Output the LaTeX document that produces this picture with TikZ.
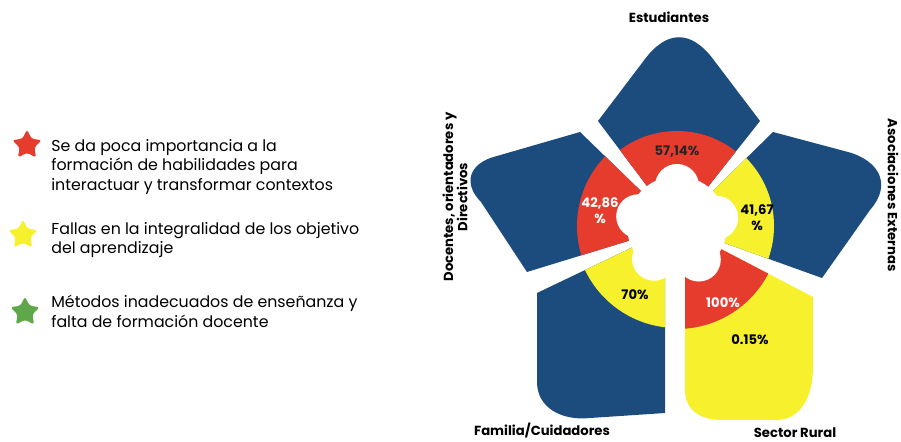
\documentclass[tikz,border=0pt]{standalone}
\usepackage{fontspec}
\setmainfont{Poppins}
\usetikzlibrary{shapes.geometric}
\definecolor{petalblue}{RGB}{28,76,125}
\definecolor{ringred}{RGB}{230,60,45}
\definecolor{ringyellow}{RGB}{247,240,45}
\definecolor{stargreen}{RGB}{95,168,74}

\begin{document}
\begin{tikzpicture}[x=0.02cm,y=0.02cm,
  pct/.style={font=\fontsize{7.5}{9}\selectfont\bfseries, align=center, inner sep=0pt},
  lbl/.style={font=\fontsize{7.5}{8}\selectfont\bfseries, align=center, inner sep=0pt},
  legtext/.style={anchor=west, align=left, font=\fontsize{9}{11.3}\selectfont, inner sep=0pt},
  legstar/.style={star, star points=5, star point ratio=2, minimum size=0.62cm, inner sep=0pt, rounded corners=1.5pt}]
\useasboundingbox (0,0) rectangle (901,442);
\coordinate (C) at (677,216);

% Estudiantes
\begin{scope}
\clip (C) -- (598,321) -- (645,383) .. controls (667,412) and (691,412) .. (713,383) -- (760,321) -- cycle;
\fill[petalblue] (0,0) rectangle (901,442);
\fill[ringred] (C) circle (95);
\end{scope}
% Docentes
\begin{scope}
\clip (C) -- (580,310) -- (497,286) .. controls (468,279) and (463,258) .. (481,240) -- (527,170) -- cycle;
\fill[petalblue] (0,0) rectangle (901,442);
\fill[ringred] (C) circle (100);
\end{scope}
% Asociaciones
\begin{scope}
\clip (C) -- (773,310) -- (848,290) .. controls (880,281) and (892,257) .. (870,232) -- (822,164) -- cycle;
\fill[petalblue] (0,0) rectangle (901,442);
\fill[ringyellow] (C) circle (97);
\end{scope}
% Familia
\begin{scope}
\clip (C) -- (537,149) -- (537,60) .. controls (537,34) and (562,21) .. (590,24) -- (665,29) -- (665,185) -- cycle;
\fill[petalblue] (0,0) rectangle (901,442);
\fill[ringyellow] (C) circle (102);
\end{scope}
% Sector rural
\begin{scope}
\clip (C) -- (685,185) -- (685,52) .. controls (685,32) and (700,22) .. (722,22) -- (776,22) .. controls (800,22) and (813,44) .. (813,75) -- (813,145) -- cycle;
\fill[ringyellow] (0,0) rectangle (901,442);
\fill[ringred] (C) circle (103);
\end{scope}

% centro
\fill[white] (C) circle (50);
\foreach \a in {90,166,235,303,12}
  \fill[white] (C) ++(\a:40) circle (22);

\node[pct, text=black!85] (p1) at (677,290) {57,14\%};
\node[pct, text=white] (p2) at (600,231) {42,86\\\%};
\node[pct] (p3) at (757,224) {41,67\\\%};
\node[pct] (p4) at (635,147) {70\%};
\node[pct, text=white] (p5) at (723,139) {100\%};
\node[pct] (p6) at (750,102) {0.15\%};

\node[lbl] (est) at (669,425) {Estudiantes};
\node[lbl, rotate=90] (doc) at (455,245) {Docentes, orientadores y\\Directivos};
\node[lbl, rotate=-90] (aso) at (893,247) {Asociaciones Externas};
\node[lbl] (fam) at (542,12) {Familia/Cuidadores};
\node[lbl] (sec) at (795,9) {Sector Rural};

% leyenda
\node[legstar, fill=ringred] (s1) at (27,297) {};
\node[legtext] (t1) at (51,275) {Se da poca importancia a la\\formación de habilidades para\\interactuar y transformar contextos};
\node[legstar, fill=ringyellow] (s2) at (23,207) {};
\node[legtext] (t2) at (51,202) {Fallas en la integralidad de los objetivo\\del aprendizaje};
\node[legstar, fill=stargreen] (s3) at (25,130) {};
\node[legtext] (t3) at (51,131) {Métodos inadecuados de enseñanza y\\falta de formación docente};
\end{tikzpicture}
\end{document}
